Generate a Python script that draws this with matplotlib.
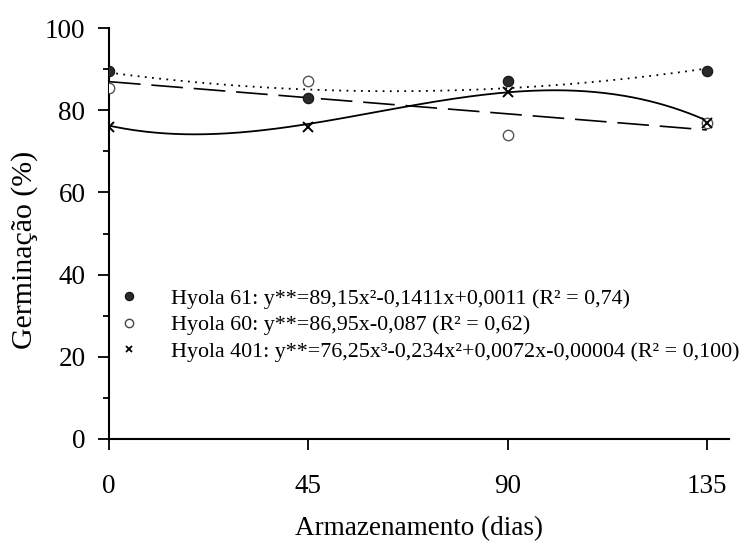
import numpy as np
import matplotlib
matplotlib.use("Agg")
import matplotlib.pyplot as plt
from matplotlib.lines import Line2D
from matplotlib.ticker import MultipleLocator

plt.rcParams['font.family'] = ['Liberation Serif', 'DejaVu Serif']

# ---- data ----
days = [0, 45, 90, 135]
hyola61 = [89.5, 83.0, 87.0, 89.5]
hyola60 = [85.5, 87.0, 74.0, 77.0]
hyola401 = [76.0, 76.0, 84.5, 77.0]

# regression coefficients (constant, x, x^2, x^3)
coef61 = [89.15, -0.1411, 0.0011]
coef60 = [86.95, -0.087]
coef401 = [76.25, -0.234, 0.0072, -0.00004]

labels = [
    "Hyola 61: y**=89,15x²-0,1411x+0,0011 (R² = 0,74)",
    "Hyola 60: y**=86,95x-0,087 (R² = 0,62)",
    "Hyola 401: y**=76,25x³-0,234x²+0,0072x-0,00004 (R² = 0,100)",
]
xticks = [0, 45, 90, 135]
yticks = [0, 20, 40, 60, 80, 100]

fig = plt.figure(figsize=(7.42, 5.45), dpi=100)
ax = fig.add_axes([0.1469, 0.1945, 0.8356, 0.7541])

xs = np.linspace(0, 135, 300)
def poly(c, x):
    return sum(ci * x**i for i, ci in enumerate(c))

ax.plot(xs, poly(coef61, xs), color='black', lw=1.3, linestyle=(0, (1, 3)))
ax.plot(xs, poly(coef60, xs), color='black', lw=1.2, linestyle=(0, (19, 6.5)))
ax.plot(xs, poly(coef401, xs), color='black', lw=1.3, linestyle='-')

ax.plot(days, hyola61, linestyle='none', marker='o', ms=7.5, mfc='#2a2a2a', mec='#111111', mew=0.8, zorder=5)
ax.plot(days, hyola60, linestyle='none', marker='o', ms=7.5, mfc='white', mec='#555555', mew=1.0, zorder=5)
ax.plot(days, hyola401, linestyle='none', marker='x', ms=6.5, color='black', mew=1.4, zorder=6)

ax.set_xlim(0, 140)
ax.set_ylim(0, 100)
ax.set_xticks(xticks)
ax.set_yticks(yticks)
ax.yaxis.set_minor_locator(MultipleLocator(10))
ax.tick_params(axis='both', which='major', direction='out', length=8, width=1.3, labelsize=19.5, pad=9)
ax.tick_params(axis='y', which='minor', direction='out', length=4.5, width=1.3)
ax.tick_params(axis='x', which='major', pad=17)
for s in ['top', 'right']:
    ax.spines[s].set_visible(False)
for s in ['left', 'bottom']:
    ax.spines[s].set_linewidth(1.5)

ax.set_xlabel("Armazenamento (dias)", fontsize=19.5, labelpad=12.5)
ax.set_ylabel("Germinação (%)", fontsize=21.5)
ax.yaxis.set_label_coords(-0.115, 0.46)

handles = [
    Line2D([], [], linestyle='none', marker='o', ms=6, mfc='#2a2a2a', mec='#111111', mew=0.8),
    Line2D([], [], linestyle='none', marker='o', ms=6, mfc='white', mec='#444444', mew=1.0),
    Line2D([], [], linestyle='none', marker='x', ms=5, color='black', mew=1.3),
]
ax.legend(handles, labels, loc='center left', bbox_to_anchor=(0.1604, 0.4036),
          bbox_transform=fig.transFigure, frameon=False, fontsize=15.8,
          handlelength=0.9, handletextpad=1.45, labelspacing=0.28,
          borderpad=0, borderaxespad=0)

fig.savefig("out.png", dpi=100)
